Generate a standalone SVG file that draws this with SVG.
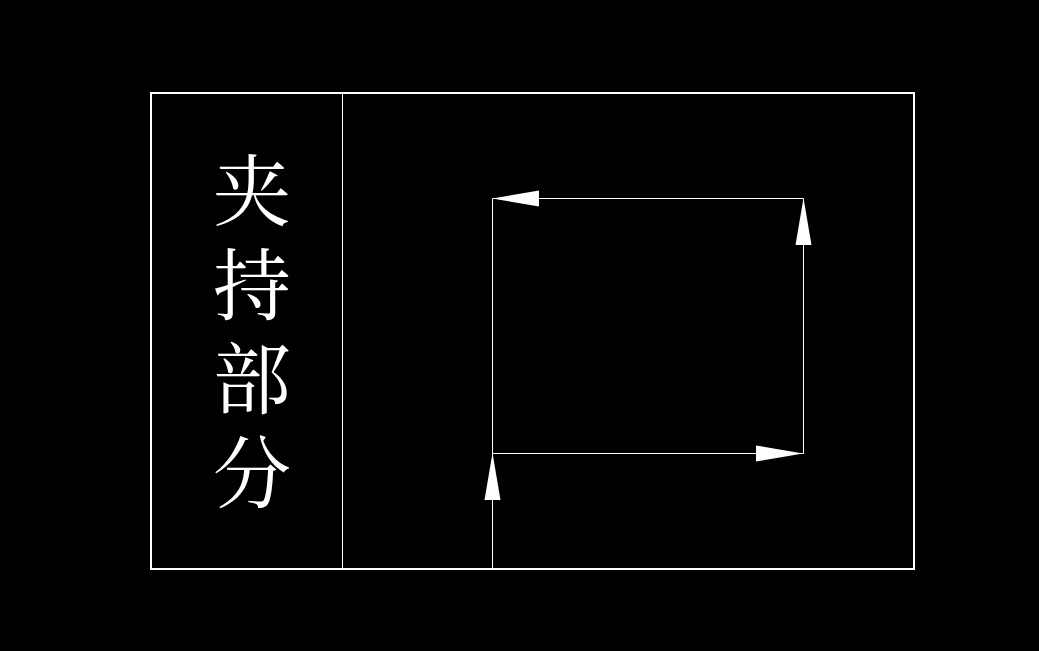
<svg xmlns="http://www.w3.org/2000/svg" width="1039" height="651" viewBox="0 0 1039 651">
<style>
.frame{fill:none;stroke:#fff;stroke-width:2}
.line{fill:none;stroke:#fff;stroke-width:1}
.arrow{fill:#fff;stroke:none}
.label{fill:#fff;font-family:"Noto Serif CJK SC","Noto Sans CJK SC",serif;font-size:78px;font-weight:400;writing-mode:vertical-rl;letter-spacing:16px}
</style>
<rect width="1039" height="651" fill="#000"/>
<g id="frame">
<rect class="frame" x="151" y="93" width="763" height="476"/>
<line class="line" x1="342.5" y1="93" x2="342.5" y2="569"/>
</g>
<g id="label">
<text class="label" x="252" y="151">夹持部分</text>
</g>
<g id="connectors">
<path class="line" d="M492.5,569 L492.5,453.5 L803.5,453.5 L803.5,198.5 L492.5,198.5 L492.5,453.5"/>
<polygon class="arrow" points="492.5,453 484.5,500 500.5,500"/>
<polygon class="arrow" points="803,453.5 756,445.5 756,461.5"/>
<polygon class="arrow" points="803.5,198 795.5,245 811.5,245"/>
<polygon class="arrow" points="492,198.5 539,190.5 539,206.5"/>
</g>
</svg>
